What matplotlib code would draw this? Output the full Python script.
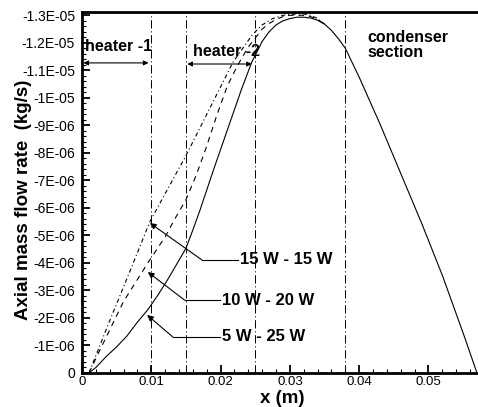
import matplotlib
matplotlib.use("Agg")
import matplotlib.pyplot as plt
from matplotlib.ticker import MultipleLocator

plt.rcParams['font.family'] = ['Liberation Sans', 'DejaVu Sans']
plt.rcParams['lines.scale_dashes'] = False

# 15 W - 15 W (dash-dot)
x_15 = [0.001, 0.004, 0.007, 0.0098, 0.0125, 0.015, 0.018, 0.0218, 0.0246, 0.026, 0.0275,
        0.029, 0.030, 0.031, 0.032, 0.033, 0.034, 0.035]
m_15 = [0.0, -1.9e-6, -3.75e-6, -5.5e-6, -6.75e-6, -7.9e-6, -9.4e-6, -11.3e-6, -12.3e-6,
        -12.65e-6, -12.88e-6, -13.0e-6, -13.03e-6, -13.05e-6, -13.05e-6, -13.0e-6, -12.88e-6,
        -12.68e-6]

# 10 W - 20 W (dashed)
x_10 = [0.001, 0.003, 0.006, 0.0095, 0.012, 0.0134, 0.015, 0.0165, 0.018, 0.0195, 0.021, 0.0225,
        0.024, 0.026, 0.027, 0.028, 0.029, 0.030, 0.031, 0.032, 0.033, 0.034, 0.035]
m_10 = [0.0, -1.05e-6, -2.6e-6, -4.0e-6, -4.95e-6, -5.6e-6, -6.3e-6, -7.2e-6, -8.25e-6, -9.4e-6,
        -10.45e-6, -11.2e-6, -11.85e-6, -12.5e-6, -12.7e-6, -12.85e-6, -12.95e-6, -13.0e-6,
        -13.0e-6, -13.0e-6, -12.95e-6, -12.85e-6, -12.68e-6]

# 5 W - 25 W (solid), carries the common condenser part
x_5 = [0.001, 0.002, 0.0035, 0.005, 0.0065, 0.008, 0.0095, 0.011, 0.0125, 0.014, 0.015, 0.016,
       0.017, 0.019, 0.021, 0.023, 0.0245, 0.026, 0.027, 0.028, 0.029, 0.030, 0.031, 0.032,
       0.033, 0.034, 0.035, 0.036, 0.037, 0.038, 0.040, 0.043, 0.046, 0.049, 0.052, 0.055, 0.057]
m_5 = [0.0, -0.2e-6, -0.6e-6, -0.95e-6, -1.35e-6, -1.85e-6, -2.3e-6, -2.85e-6, -3.45e-6, -4.1e-6,
       -4.53e-6, -5.2e-6, -5.9e-6, -7.4e-6, -8.85e-6, -10.3e-6, -11.3e-6, -12.05e-6, -12.4e-6,
       -12.65e-6, -12.8e-6, -12.88e-6, -12.93e-6, -12.93e-6, -12.9e-6, -12.82e-6, -12.68e-6,
       -12.45e-6, -12.15e-6, -11.8e-6, -10.75e-6, -9.05e-6, -7.25e-6, -5.45e-6, -3.55e-6,
       -1.45e-6, 0.0]

section_x = [0.01, 0.015, 0.025, 0.038]

y_ticks = [-1.3e-5, -1.2e-5, -1.1e-5, -1e-5, -9e-6, -8e-6, -7e-6, -6e-6, -5e-6,
           -4e-6, -3e-6, -2e-6, -1e-6, 0]
y_labels = ['-1.3E-05', '-1.2E-05', '-1.1E-05', '-1E-05', '-9E-06', '-8E-06', '-7E-06',
            '-6E-06', '-5E-06', '-4E-06', '-3E-06', '-2E-06', '-1E-06', '0']
x_ticks = [0, 0.01, 0.02, 0.03, 0.04, 0.05]
x_labels = ['0', '0.01', '0.02', '0.03', '0.04', '0.05']

fig = plt.figure(figsize=(4.78, 4.07), dpi=100)
ax = fig.add_axes([82/478, 34/407, 395/478, 361/407])

ax.plot(x_5, m_5, color='k', lw=0.8)
ax.plot(x_10, m_10, color='k', lw=0.8, dashes=(4, 3.5))
ax.plot(x_15, m_15, color='k', lw=0.8, dashes=(3, 2, 0.8, 2))

for xv in section_x:
    ax.axvline(xv, color='k', lw=0.7, dashes=(6, 2, 0.8, 2))

ax.set_xlim(0, 0.057)
ax.set_ylim(0, -1.312e-5)

ax.set_xticks(x_ticks, x_labels)
ax.set_yticks(y_ticks, y_labels)
ax.xaxis.set_minor_locator(MultipleLocator(0.002))
ax.yaxis.set_minor_locator(MultipleLocator(2e-7))
ax.tick_params(which='major', direction='in', length=6, width=1.3, labelsize=10)
ax.tick_params(which='minor', direction='in', length=3, width=0.8)
ax.tick_params(axis='y', pad=5)
ax.tick_params(axis='x', pad=2.5, labelsize=9.5)

for s in ['left', 'bottom', 'top']:
    ax.spines[s].set_linewidth(2)
ax.spines['right'].set_visible(False)

# heater / condenser annotations
arrow = dict(arrowstyle='<|-|>', color='k', lw=0.8, mutation_scale=7, shrinkA=0, shrinkB=0)
ax.annotate('', xy=(0.0002, -1.127e-5), xytext=(0.0096, -1.127e-5), arrowprops=arrow)
ax.annotate('', xy=(0.0152, -1.123e-5), xytext=(0.0245, -1.123e-5), arrowprops=arrow)
ax.text(0.0004, -1.188e-5, 'heater -1', fontsize=11.5, fontweight='bold', va='center', ha='left')
ax.text(0.0160, -1.17e-5, 'heater -2', fontsize=11.5, fontweight='bold', va='center', ha='left')
ax.text(0.0412, -1.245e-5, 'condenser\nsection', fontsize=11.5, fontweight='bold',
        va='top', ha='left', linespacing=0.95)

# case labels with leader arrows
cases = ['15 W - 15 W', '10 W - 20 W', '5 W - 25 W']
tips = [(0.0098, -5.45e-6), (0.0095, -3.67e-6), (0.0094, -2.11e-6)]
elbows = [(0.0173, -4.11e-6), (0.0148, -2.65e-6), (0.0131, -1.31e-6)]
text_x = [0.0228, 0.0202, 0.0202]
for label, tip, elb, tx in zip(cases, tips, elbows, text_x):
    ax.plot([elb[0], tx - 0.0003], [elb[1], elb[1]], color='k', lw=0.8)
    ax.annotate('', xy=tip, xytext=elb,
                arrowprops=dict(arrowstyle='-|>', color='k', lw=0.8, mutation_scale=9,
                                shrinkA=0, shrinkB=0))
    ax.text(tx, elb[1], label, fontsize=12, fontweight='bold', va='center', ha='left')

ax.text(0.506, -0.072, 'x (m)', transform=ax.transAxes, fontsize=13.5, fontweight='bold',
        ha='center', va='center')
ax.text(-0.147, 0.48, 'Axial mass flow rate  (kg/s)', transform=ax.transAxes, fontsize=13.5,
        fontweight='bold', ha='center', va='center', rotation=90)

fig.savefig('out.png', dpi=100)
